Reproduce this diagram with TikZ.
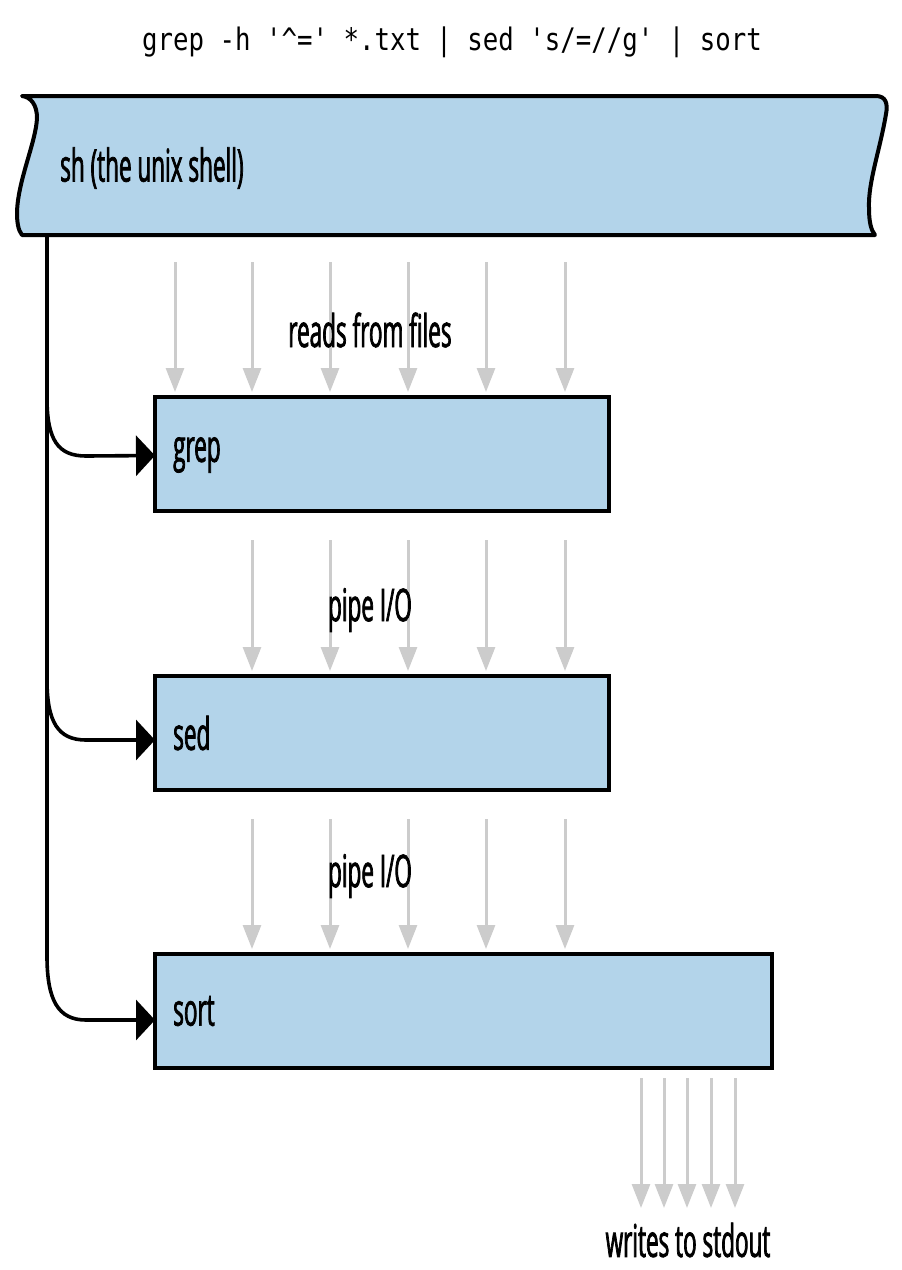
\documentclass[tikz,border=0pt]{standalone}
\usepackage{fontspec}
\setmainfont{Open Sans}[FakeStretch=0.5, UprightFeatures={FakeBold=1.6}]
\newfontfamily\cmdfont{DejaVu Sans Mono}[FakeStretch=0.83]
\usetikzlibrary{arrows.meta}
\definecolor{boxblue}{RGB}{179,212,234}
\definecolor{feedgray}{RGB}{204,204,204}
\tikzset{
  procbox/.style={draw=black, line width=4pt, fill=boxblue, outer sep=0pt, inner sep=0pt, anchor=north west},
  shellbox/.style={draw=black, line width=4pt, fill=boxblue, line join=round},
  branch/.style={draw=black, line width=3.6pt, arrows={-Triangle[length=19pt,width=40pt]}},
  trunkline/.style={draw=black, line width=3.6pt},
  feed/.style={draw=feedgray, line width=3pt, -{Triangle[length=24pt,width=18pt]}},
  boxlabel/.style={anchor=west, font=\fontsize{45}{48}\selectfont, inner sep=0pt},
  flowlabel/.style={font=\fontsize{45}{48}\selectfont, inner sep=0pt},
}
\begin{document}
\begin{tikzpicture}[x=1pt,y=-1pt]
\useasboundingbox (0,0) rectangle (902,1270);
% command line
\node[font=\cmdfont\fontsize{31}{34}\selectfont, inner sep=0pt] (cmd) at (452,42) {grep -h '\string^=' *.txt | sed 's/=//g' | sort};
% shell banner
\draw[shellbox] (22,96) -- (876,96) .. controls (886,96) and (888,104) .. (886,114)
  .. controls (880,150) and (868,182) .. (869,208) .. controls (869,222) and (871,230) .. (875,235)
  -- (22,235) .. controls (18,230) and (17,222) .. (17,212)
  .. controls (18,180) and (36,142) .. (37,118) .. controls (37,105) and (31,97) .. (22,96) -- cycle;
\node[boxlabel] (sh) at (60,168) {sh (the unix shell)};
% process boxes
\node[procbox, minimum width=454pt, minimum height=114pt] (grep) at (155,397) {};
\node[boxlabel] (greplbl) at (173,455) {grep};
\node[procbox, minimum width=454pt, minimum height=114pt] (sed) at (155,676) {};
\node[boxlabel] (sedlbl) at (173,733) {sed};
\node[procbox, minimum width=617pt, minimum height=114pt] (sort) at (155,954) {};
\node[boxlabel] (sortlbl) at (173,1011) {sort};
% trunk and branches
\coordinate (trunktop) at (47,237);
\coordinate (b1) at (47,398);
\coordinate (b2) at (47,680);
\coordinate (b3) at (47,956);
\draw[trunkline] (trunktop) -- (b3);
\draw[branch] (b1) .. controls (47,440) and (58,456) .. (86,456) -- ([yshift=-1.5pt]grep.west);
\draw[branch] (b2) .. controls (47,722) and (58,740) .. (86,740) -- ([yshift=-7pt]sed.west);
\draw[branch] (b3) .. controls (47,1000) and (58,1020) .. (86,1020) -- ([yshift=-9pt]sort.west);
% feeds
\foreach \x in {175,252,330,408,486,565}
  \draw[feed] (\x,262) -- ([yshift=5pt]\x,0 |- grep.north);
\node[flowlabel] (reads) at (370,330) {reads from files};
\foreach \x in {252,330,408,486,565}
  \draw[feed] ([yshift=-29pt]\x,0 |- grep.south) -- ([yshift=5pt]\x,0 |- sed.north);
\node[flowlabel] (pipe1) at (370,610) {pipe I/O};
\foreach \x in {252,330,408,486,565}
  \draw[feed] ([yshift=-29pt]\x,0 |- sed.south) -- ([yshift=5pt]\x,0 |- sort.north);
\node[flowlabel] (pipe2) at (370,876) {pipe I/O};
\foreach \x in {641,664,687,711,735}
  \draw[feed] ([yshift=-10pt]\x,0 |- sort.south) -- (\x,1208);
\node[flowlabel] (stdout) at (688,1240) {writes to stdout};
\end{tikzpicture}
\end{document}
